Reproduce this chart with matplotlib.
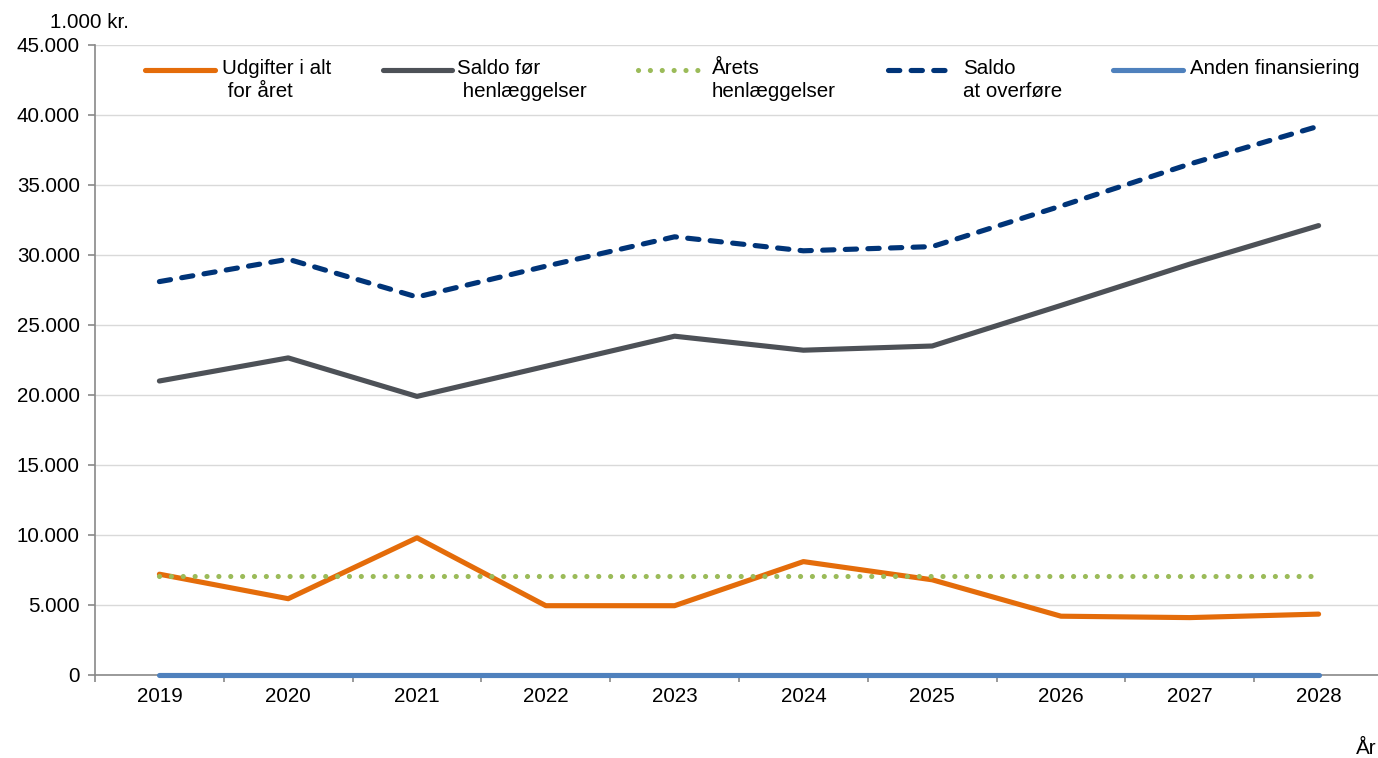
import matplotlib
matplotlib.use("Agg")
import matplotlib.pyplot as plt
import numpy as np
from matplotlib.lines import Line2D
from matplotlib.ticker import FuncFormatter, FixedLocator

plt.rcParams["font.family"] = ["Liberation Sans", "DejaVu Sans"]

# ── data (1.000 kr.) ─────────────────────────────────────────────────────────
years = ["2019", "2020", "2021", "2022", "2023", "2024", "2025", "2026", "2027", "2028"]
udgifter = [7200, 5450, 9800, 4950, 4950, 8100, 6800, 4200, 4100, 4350]
saldo_foer = [21000, 22650, 19900, 22050, 24200, 23200, 23500, 26400, 29350, 32100]
aarets_henl = [7100, 7100, 7100, 7100, 7100, 7100, 7100, 7100, 7100, 7100]
saldo_overfoere = [28100, 29700, 27000, 29200, 31300, 30300, 30600, 33500, 36500, 39200]
anden_fin = [0, 0, 0, 0, 0, 0, 0, 0, 0, 0]

labels = ["Udgifter i alt\n for året", "Saldo før\n henlæggelser", "Årets\nhenlæggelser",
          "Saldo\nat overføre", "Anden finansiering"]

FS = 14.8
W, H = 1378, 758
fig = plt.figure(figsize=(W / 100, H / 100), dpi=100)
ax = fig.add_axes([95 / W, 1 - 675 / H, 1288 / W, 630 / H])

x = np.arange(len(years))
lw = 3.7
styles = {
    "udgifter": dict(color="#E46C0A", lw=lw, solid_capstyle="round"),
    "saldo_foer": dict(color="#4D5157", lw=lw, solid_capstyle="round"),
    "aarets": dict(color="#9BBB59", lw=lw, linestyle=(0, (0.01, 2.3)), dash_capstyle="round"),
    "overfoere": dict(color="#003478", lw=lw, linestyle=(0, (2.2, 2.2)), dash_capstyle="round"),
    "anden": dict(color="#4F81BD", lw=lw, solid_capstyle="round"),
}
ax.plot(x, udgifter, zorder=4, **styles["udgifter"])
ax.plot(x, aarets_henl, zorder=5, **styles["aarets"])
ax.plot(x, saldo_foer, zorder=4, **styles["saldo_foer"])
ax.plot(x, saldo_overfoere, zorder=4, **styles["overfoere"])
ax.plot(x, anden_fin, zorder=6, clip_on=False, **styles["anden"])

ax.set_xlim(-0.5, len(years) - 0.5)
ax.set_ylim(0, 45000)
ax.set_yticks(np.arange(0, 45001, 5000))
ax.yaxis.set_major_formatter(FuncFormatter(lambda v, p: f"{int(v):,}".replace(",", ".")))
ax.set_xticks(x)
ax.set_xticklabels(years)
ax.xaxis.set_minor_locator(FixedLocator(np.arange(-0.5, len(years), 1.0)))
ax.tick_params(axis="x", which="major", length=0, pad=9, labelsize=FS)
ax.tick_params(axis="x", which="minor", length=5, color="#898989", width=1.2)
ax.tick_params(axis="y", length=5, color="#898989", width=1.2, pad=6, labelsize=FS)

ax.grid(axis="y", color="#D9D9D9", lw=1)
ax.set_axisbelow(True)
for s in ["top", "right"]:
    ax.spines[s].set_visible(False)
for s in ["left", "bottom"]:
    ax.spines[s].set_color("#898989")
    ax.spines[s].set_linewidth(1.2)

# ── legend, drawn by hand so the key sits at the first text line ─────────────
leg_y = 1 - 70 / H
legend_items = [
    (145, 215, 222, labels[0], "udgifter"),
    (383, 452, 457, labels[1], "saldo_foer"),
    (638, 699, 712, labels[2], "aarets"),
    (888, 950, 963, labels[3], "overfoere"),
    (1113, 1183, 1190, labels[4], "anden"),
]
fig.patches.append(plt.Rectangle((130 / W, 1 - 110 / H), 1240 / W, 54 / H,
                                 transform=fig.transFigure, color="white", zorder=2))
for x0, x1, xt, lab, key in legend_items:
    fig.add_artist(Line2D([x0 / W, x1 / W], [leg_y, leg_y], transform=fig.transFigure,
                          zorder=10, **styles[key]))
    fig.text(xt / W, 1 - 59 / H, lab, fontsize=FS, va="top", ha="left",
             linespacing=1.25, zorder=10)

fig.text(50 / W, 1 - 22 / H, "1.000 kr.", fontsize=FS, va="center", ha="left")
fig.text(1377 / W, 1 - 748 / H, "År", fontsize=FS, va="center", ha="right")

fig.savefig("out.png", dpi=100)
